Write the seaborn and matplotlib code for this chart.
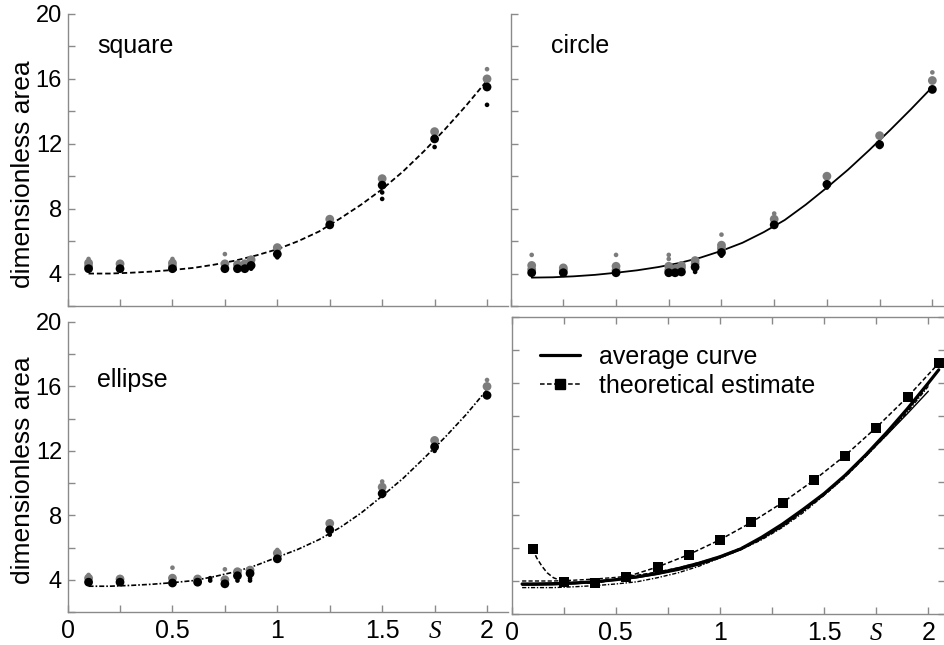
import matplotlib
matplotlib.use("Agg")
import matplotlib.pyplot as plt
from matplotlib.ticker import MultipleLocator, FixedLocator, FixedFormatter
import pandas as pd
import seaborn as sns

# ---------------------------------------------------------------- data
# fitted curves, sampled along the shape parameter S
S_FIT = [0.05, 0.1, 0.2, 0.3, 0.4, 0.5, 0.6, 0.7, 0.8, 0.9, 1.0,
         1.1, 1.2, 1.3, 1.4, 1.5, 1.6, 1.7, 1.8, 1.9, 2.0]
SQUARE_FIT = [4.0, 4.0, 4.0, 4.05, 4.12, 4.22, 4.35, 4.55, 4.8, 5.12, 5.5,
              6.0, 6.6, 7.4, 8.25, 9.2, 10.3, 11.55, 12.9, 14.35, 15.9]
CIRCLE_FIT = [3.75, 3.75, 3.77, 3.83, 3.92, 4.05, 4.2, 4.4, 4.65, 4.98, 5.4,
              5.9, 6.55, 7.3, 8.25, 9.3, 10.4, 11.6, 12.85, 14.15, 15.5]
ELLIPSE_FIT = [3.6, 3.6, 3.6, 3.65, 3.72, 3.82, 3.95, 4.2, 4.5, 4.9, 5.4,
               5.9, 6.5, 7.25, 8.15, 9.2, 10.3, 11.55, 12.85, 14.25, 15.8]

# measured areas: (S, area) pairs for each marker class
SQUARE_GREY = [(0.1, 4.65), (0.1, 4.45), (0.25, 4.6), (0.5, 4.65), (0.5, 4.45),
               (0.75, 4.6), (0.81, 4.55), (0.845, 4.6), (0.875, 4.85),
               (1.0, 5.6), (1.25, 7.35), (1.5, 9.85), (1.75, 12.75), (2.0, 16.0)]
SQUARE_GREY_SMALL = [(0.1, 4.9), (0.5, 4.9), (0.75, 5.2), (2.0, 16.6)]
SQUARE_BLACK = [(0.1, 4.3), (0.25, 4.3), (0.5, 4.3), (0.75, 4.3), (0.81, 4.3),
                (0.845, 4.3), (0.875, 4.5), (1.0, 5.2), (1.25, 7.0),
                (1.5, 9.45), (1.75, 12.3), (2.0, 15.5)]
SQUARE_BLACK_SMALL = [(0.875, 4.3), (1.0, 5.0), (1.5, 9.0), (1.5, 8.6),
                      (1.75, 11.8), (2.0, 14.4)]

CIRCLE_GREY = [(0.1, 4.5), (0.1, 4.25), (0.25, 4.35), (0.25, 4.2), (0.5, 4.45),
               (0.5, 4.2), (0.75, 4.45), (0.75, 4.2), (0.78, 4.3), (0.81, 4.5),
               (0.81, 4.35), (0.875, 4.8), (0.875, 4.6), (1.0, 5.75), (1.0, 5.55),
               (1.25, 7.35), (1.5, 10.0), (1.75, 12.5), (2.0, 15.9)]
CIRCLE_GREY_SMALL = [(0.1, 5.15), (0.5, 5.15), (0.75, 5.15), (0.75, 4.9),
                     (1.0, 6.4), (1.25, 7.7), (2.0, 16.4)]
CIRCLE_BLACK = [(0.1, 4.05), (0.25, 4.05), (0.5, 4.05), (0.75, 4.05), (0.78, 4.05),
                (0.81, 4.1), (0.875, 4.4), (1.0, 5.3), (1.25, 7.0), (1.5, 9.5),
                (1.75, 11.95), (2.0, 15.35)]
CIRCLE_BLACK_SMALL = [(0.875, 4.1), (1.0, 5.1), (1.5, 9.3), (1.75, 11.8)]

ELLIPSE_GREY = [(0.1, 4.1), (0.25, 4.05), (0.5, 4.1), (0.62, 4.05), (0.75, 4.0),
                (0.81, 4.5), (0.87, 4.6), (1.0, 5.65), (1.25, 7.5), (1.5, 9.75),
                (1.75, 12.65), (2.0, 16.0)]
ELLIPSE_GREY_SMALL = [(0.1, 4.3), (0.5, 4.75), (0.75, 4.65), (1.0, 5.85),
                      (1.5, 10.1), (2.0, 16.4)]
ELLIPSE_BLACK = [(0.1, 3.85), (0.25, 3.85), (0.5, 3.8), (0.62, 3.85), (0.75, 3.75),
                 (0.81, 4.25), (0.87, 4.4), (1.0, 5.3), (1.25, 7.1), (1.5, 9.35),
                 (1.75, 12.25), (2.0, 15.45)]
ELLIPSE_BLACK_SMALL = [(0.68, 3.95), (0.68, 4.1), (0.81, 3.95), (0.87, 3.95),
                       (0.87, 4.1), (1.25, 6.8), (1.5, 9.2), (1.75, 12.0)]

# average of the three fits and the theoretical estimate
S_AVG = [0.05, 0.1, 0.2, 0.3, 0.4, 0.5, 0.6, 0.7, 0.8, 0.9, 1.0,
         1.1, 1.2, 1.3, 1.4, 1.5, 1.6, 1.7, 1.8, 1.9, 2.0, 2.05]
AVG_CURVE = [3.82, 3.82, 3.84, 3.88, 3.96, 4.08, 4.25, 4.47, 4.75, 5.08, 5.47,
             5.95, 6.65, 7.45, 8.35, 9.3, 10.4, 11.65, 13.0, 14.45, 16.0, 16.8]
THEORY_S = [0.1, 0.25, 0.4, 0.55, 0.7, 0.85, 1.0, 1.15, 1.3, 1.45, 1.6, 1.75, 1.9, 2.05]
THEORY_A = [5.95, 3.95, 3.85, 4.25, 4.85, 5.6, 6.5, 7.55, 8.75, 10.1, 11.6, 13.3, 15.15, 17.2]
THEORY_LINE_S = [0.1, 0.12, 0.145, 0.17, 0.2, 0.25, 0.4, 0.55, 0.7, 0.85, 1.0, 1.15,
                 1.3, 1.45, 1.6, 1.75, 1.9, 2.05]
THEORY_LINE_A = [5.95, 5.4, 4.9, 4.5, 4.2, 3.95, 3.85, 4.25, 4.85, 5.6, 6.5, 7.55,
                 8.75, 10.1, 11.6, 13.3, 15.15, 17.2]

X_TICKS = [0, 0.5, 1, 1.5, 1.75, 2]
X_TICK_LABELS = ["0", "0.5", "1", "1.5", "$S$", "2"]
Y_TICKS = [4, 8, 12, 16, 20]

# ---------------------------------------------------------------- style
sns.set_theme(style="ticks")
plt.rcParams["font.family"] = ["Liberation Sans", "DejaVu Sans"]
plt.rcParams["mathtext.fontset"] = "custom"
plt.rcParams["mathtext.it"] = "Liberation Serif:italic"
plt.rcParams["mathtext.rm"] = "Liberation Serif"
plt.rcParams["text.color"] = "black"
plt.rcParams["axes.labelcolor"] = "black"

GREY = "#7c7c7c"
SPINE = "#8a8a8a"
KIND_ORDER = ["grey", "grey_small", "black", "black_small"]
PALETTE = {"grey": GREY, "grey_small": GREY, "black": "black", "black_small": "black"}
SIZES = {"grey": 40, "grey_small": 11, "black": 40, "black_small": 11}

FIT_STYLE = {
    "square": dict(linestyle=(0, (3.0, 1.6)), lw=1.3),
    "circle": dict(linestyle="-", lw=1.3),
    "ellipse": dict(linestyle=(0, (3.0, 1.2, 1.0, 1.2)), lw=1.2),
}

fig = plt.figure(figsize=(9.45, 6.45), dpi=100)
W, H = 945.0, 645.0


def add_axes(left, top, right, bottom):
    return fig.add_axes([left / W, 1 - bottom / H, (right - left) / W, (bottom - top) / H])


ax_sq = add_axes(67.6, 14, 508, 306)
ax_ci = add_axes(510.6, 14, 945, 306)
ax_el = add_axes(67.6, 322, 508, 612)
ax_th = add_axes(511.7, 317, 945, 614)


def points_frame(grey, grey_small, black, black_small):
    rows = []
    for kind, pts in zip(KIND_ORDER, [grey, grey_small, black, black_small]):
        rows += [{"S": s, "area": a, "kind": kind} for s, a in pts]
    return pd.DataFrame(rows)


def style_axes(ax, xmax, framed=False, xlabels=False, ylabels=False):
    ax.set_xlim(0, xmax)
    ax.set_ylim(2, 20)
    for side in ["top", "right"]:
        ax.spines[side].set_visible(framed)
    for sp in ax.spines.values():
        sp.set_color(SPINE)
        sp.set_linewidth(1.0)
    ax.xaxis.set_minor_locator(MultipleLocator(0.25))
    ax.yaxis.set_minor_locator(MultipleLocator(2))
    ax.xaxis.set_major_locator(FixedLocator(X_TICKS))
    ax.xaxis.set_major_formatter(FixedFormatter(X_TICK_LABELS if xlabels else [""] * len(X_TICKS)))
    ax.yaxis.set_major_locator(FixedLocator(Y_TICKS))
    if not ylabels:
        ax.set_yticklabels([""] * len(Y_TICKS))
    ax.tick_params(which="both", direction="in", color=SPINE, width=1.0,
                   top=framed, right=framed, labelcolor="black")
    ax.tick_params(which="both", length=5)
    ax.tick_params(axis="x", labelsize=18, pad=5)
    ax.tick_params(axis="y", labelsize=17, pad=4)
    ax.set_xlabel("")
    ax.set_ylabel("")


panels = [
    (ax_sq, "square", SQUARE_FIT, (SQUARE_GREY, SQUARE_GREY_SMALL, SQUARE_BLACK, SQUARE_BLACK_SMALL)),
    (ax_ci, "circle", CIRCLE_FIT, (CIRCLE_GREY, CIRCLE_GREY_SMALL, CIRCLE_BLACK, CIRCLE_BLACK_SMALL)),
    (ax_el, "ellipse", ELLIPSE_FIT, (ELLIPSE_GREY, ELLIPSE_GREY_SMALL, ELLIPSE_BLACK, ELLIPSE_BLACK_SMALL)),
]

for ax, name, fit, groups in panels:
    sns.lineplot(x=S_FIT[1:], y=fit[1:], ax=ax, color="black", estimator=None,
                 **FIT_STYLE[name], zorder=2)
    df = points_frame(*groups)
    sns.scatterplot(data=df, x="S", y="area", hue="kind", size="kind",
                    hue_order=KIND_ORDER, size_order=KIND_ORDER,
                    palette=PALETTE, sizes=SIZES, linewidth=0, legend=False,
                    ax=ax, zorder=3)

style_axes(ax_sq, 2.1, ylabels=True)
style_axes(ax_ci, 2.06)
style_axes(ax_el, 2.1, xlabels=True, ylabels=True)

ax_sq.text(0.14, 18.0, "square", fontsize=18, va="center", ha="left")
ax_ci.text(0.19, 18.0, "circle", fontsize=18, va="center", ha="left")
ax_el.text(0.14, 16.4, "ellipse", fontsize=18, va="center", ha="left")

for ax, yc in [(ax_sq, 0.45), (ax_el, 0.49)]:
    ax.set_ylabel("dimensionless area", fontsize=19)
    ax.yaxis.set_label_coords(-0.074, yc)

# comparison panel: individual fits, average and theory
for name, fit in [("square", SQUARE_FIT), ("circle", CIRCLE_FIT), ("ellipse", ELLIPSE_FIT)]:
    st = dict(FIT_STYLE[name])
    st["lw"] = 1.0
    sns.lineplot(x=S_FIT, y=fit, ax=ax_th, color="black", estimator=None, **st, zorder=2)

sns.lineplot(x=S_AVG, y=AVG_CURVE, ax=ax_th, color="black", lw=2.3,
             estimator=None, zorder=3)
sns.lineplot(x=THEORY_LINE_S, y=THEORY_LINE_A, ax=ax_th, color="black", lw=1.1,
             linestyle=(0, (3.0, 1.6)), estimator=None, sort=False, zorder=3)
sns.scatterplot(x=THEORY_S, y=THEORY_A, ax=ax_th, color="black", marker="s",
                s=42, linewidth=0, zorder=4)

style_axes(ax_th, 2.08, framed=True, xlabels=True)
ax_th.set_ylim(2, 20)

h_avg = plt.Line2D([], [], color="black", lw=2.3)
h_th = plt.Line2D([], [], color="black", lw=1.1, linestyle=(0, (3.0, 1.6)),
                  marker="s", markersize=6.5)
ax_th.legend([h_avg, h_th], ["average curve", "theoretical estimate"],
             loc="upper left", bbox_to_anchor=(0.065, 0.905), frameon=False,
             fontsize=18, handlelength=1.6, handletextpad=0.75, labelspacing=0.2,
             borderpad=0, borderaxespad=0, numpoints=1)

fig.savefig("out.png", dpi=100)
